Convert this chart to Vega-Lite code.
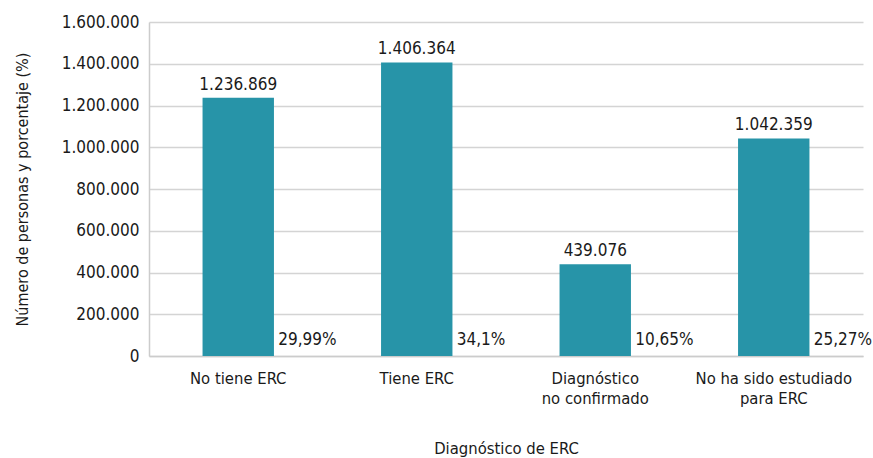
{
  "$schema": "https://vega.github.io/schema/vega-lite/v6.json",
  "autosize": {"type": "none"},
  "padding": {"left": 149, "top": 22, "right": 10, "bottom": 102},
  "width": 714,
  "height": 334,
  "background": "white",
  "config": {
    "view": {"stroke": null},
    "font": "DejaVu Sans Condensed, Liberation Sans Narrow, sans-serif",
    "text": {"font": "DejaVu Sans Condensed, Liberation Sans Narrow, sans-serif"}
  },
  "data": {
    "values": [
      {"cat": "No tiene ERC", "n": 1236869, "pct": 0.2999},
      {"cat": "Tiene ERC", "n": 1406364, "pct": 0.341},
      {"cat": "Diagnóstico|no confirmado", "n": 439076, "pct": 0.1065},
      {"cat": "No ha sido estudiado|para ERC", "n": 1042359, "pct": 0.2527}
    ]
  },
  "transform": [
    {"calculate": "replace(format(datum.n, ','), regexp(',', 'g'), '.')", "as": "nlab"},
    {"calculate": "replace(format(datum.pct, '.2~%'), '.', ',')", "as": "plab"}
  ],
  "encoding": {
    "x": {
      "field": "cat",
      "type": "nominal",
      "sort": null,
      "scale": {"paddingInner": 0.6, "paddingOuter": 0.3},
      "axis": {
        "title": "Diagnóstico de ERC",
        "titleFontSize": 16.5,
        "titleFontWeight": "normal",
        "titleColor": "#1a1a1a",
        "titlePadding": 34,
        "labelExpr": "split(datum.label, '|')",
        "labelAngle": 0,
        "labelFontSize": 16.5,
        "labelColor": "#1a1a1a",
        "labelPadding": 14,
        "labelLineHeight": 20,
        "labelLimit": 0,
        "ticks": false,
        "domain": true,
        "domainColor": "#cccccc",
        "domainWidth": 1.5
      }
    }
  },
  "layer": [
    {
      "mark": {"type": "bar", "color": "#2794a8"},
      "encoding": {
        "y": {
          "field": "n",
          "type": "quantitative",
          "scale": {"domain": [0, 1600000], "nice": false},
          "axis": {
            "title": "Número de personas y porcentaje (%)",
            "titleFontSize": 16,
            "titleFontWeight": "normal",
            "titleColor": "#1a1a1a",
            "titlePadding": 31,
            "values": [0, 200000, 400000, 600000, 800000, 1000000, 1200000, 1400000, 1600000],
            "labelExpr": "replace(format(datum.value, ','), regexp(',', 'g'), '.')",
            "labelFontSize": 17,
            "labelColor": "#1a1a1a",
            "labelPadding": 10,
            "ticks": false,
            "domain": true,
            "domainColor": "#cccccc",
            "domainWidth": 1.5,
            "grid": true,
            "gridColor": "#d4d4d4",
            "gridWidth": 1.5
          }
        }
      }
    },
    {
      "mark": {"type": "text", "baseline": "alphabetic", "dy": -8, "fontSize": 17, "color": "#1a1a1a"},
      "encoding": {
        "y": {"field": "n", "type": "quantitative"},
        "text": {"field": "nlab"}
      }
    },
    {
      "mark": {"type": "text", "baseline": "alphabetic", "align": "left", "dx": 40, "dy": -11, "fontSize": 17, "color": "#1a1a1a"},
      "encoding": {
        "y": {"datum": 0, "type": "quantitative"},
        "text": {"field": "plab"}
      }
    }
  ]
}
